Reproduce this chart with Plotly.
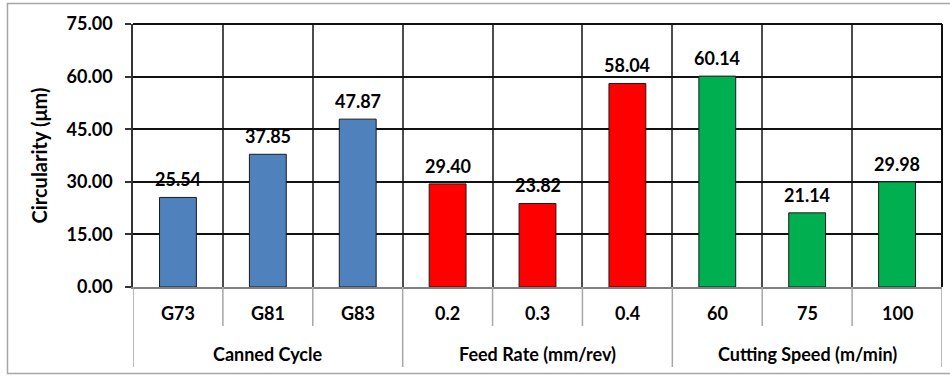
import plotly.graph_objects as go

# Factor levels, grouped by machining parameter
groups = ["Canned Cycle", "Feed Rate (mm/rev)", "Cutting Speed (m/min)"]
levels = [["G73", "G81", "G83"], ["0.2", "0.3", "0.4"], ["60", "75", "100"]]
circularity = [[25.54, 37.85, 47.87], [29.40, 23.82, 58.04], [60.14, 21.14, 29.98]]
group_colors = ["#4F81BD", "#FF0000", "#00B050"]
y_ticks = [0, 15, 30, 45, 60, 75]

FONT = "Lato"
FS = 18
W, H = 950, 376
ML, MR, MT, MB = 133, 8, 24, 89
PW, PH = W - ML - MR, H - MT - MB

categories = [c for lv in levels for c in lv]
values = [v for vals in circularity for v in vals]
colors = [group_colors[g] for g, lv in enumerate(levels) for _ in lv]
positions = list(range(len(categories)))


def px_to_paper_y(py):
    return (H - MB - py) / PH


def px_to_paper_x(px):
    return (px - ML) / PW


fig = go.Figure()
fig.add_trace(go.Bar(
    x=categories, y=values, width=0.41,
    marker=dict(color=colors, line=dict(color="#1a1a1a", width=1)),
    hoverinfo="x+y", showlegend=False,
))

label_font = dict(family=FONT, size=FS, color="#000")
annotations = []
# value labels above each bar (category index used as x position)
for i, v in zip(positions, values):
    annotations.append(dict(
        x=i, y=v, xref="x", yref="y", text=f"<b>{v:.2f}</b>", showarrow=False,
        yanchor="bottom", yshift=5, font=label_font,
    ))
# first-level category labels
for i, c in zip(positions, categories):
    annotations.append(dict(
        x=i, y=px_to_paper_y(313), xref="x", yref="paper", text=f"<b>{c}</b>",
        showarrow=False, yanchor="middle", font=label_font,
    ))
# group labels
start = 0
for g, lv in zip(groups, levels):
    mid = start + (len(lv) - 1) / 2
    annotations.append(dict(
        x=mid, y=px_to_paper_y(354), xref="x", yref="paper", text=f"<b>{g}</b>",
        showarrow=False, yanchor="middle", font=label_font,
    ))
    start += len(lv)
# y-axis title
annotations.append(dict(
    x=px_to_paper_x(38), y=0.5, xref="paper", yref="paper",
    text="<b>Circularity (μm)</b>", textangle=-90, showarrow=False,
    xanchor="center", yanchor="middle", font=dict(family=FONT, size=20, color="#000"),
))

shapes = []
# dividers under the axis: short between levels, long between groups
group_edges = set()
start = 0
for lv in levels:
    group_edges.add(start - 0.5)
    start += len(lv)
    group_edges.add(start - 0.5)
for k in range(len(categories) + 1):
    b = k - 0.5
    long_line = b in group_edges
    shapes.append(dict(
        type="line", xref="x", yref="paper", x0=b, x1=b,
        y0=0, y1=px_to_paper_y(367 if long_line else 326),
        line=dict(color="#A6A6A6", width=1.5),
    ))
# outer chart border
shapes.append(dict(
    type="rect", xref="paper", yref="paper",
    x0=px_to_paper_x(7.5), x1=px_to_paper_x(955),
    y0=px_to_paper_y(373.5), y1=px_to_paper_y(3.5),
    line=dict(color="#A6A6A6", width=1.5), fillcolor="rgba(0,0,0,0)", layer="below",
))
# black frame on top and right of the plotting area
shapes.append(dict(type="line", xref="paper", yref="paper", x0=0, x1=1, y0=1, y1=1,
                   line=dict(color="#111111", width=2)))
shapes.append(dict(type="line", xref="paper", yref="paper", x0=1, x1=1, y0=0, y1=1,
                   line=dict(color="#111111", width=2)))

fig.update_layout(
    width=W, height=H,
    margin=dict(l=ML, r=MR, t=MT, b=MB, pad=0),
    paper_bgcolor="white", plot_bgcolor="white",
    annotations=annotations, shapes=shapes,
    xaxis=dict(
        type="category", range=[-0.5, len(categories) - 0.5],
        tickson="boundaries", showgrid=True, gridcolor="#4d4d4d", gridwidth=1.5,
        showticklabels=False, ticks="",
        showline=True, linecolor="#808080", linewidth=1.5, mirror=False,
        zeroline=False, fixedrange=True,
    ),
    yaxis=dict(
        range=[0, 75], tickvals=y_ticks, tickformat=".2f",
        showgrid=True, gridcolor="#111111", gridwidth=1.5,
        ticks="outside", ticklen=6, tickcolor="#333333", tickwidth=1.5,
        ticklabelstandoff=9,
        tickfont=dict(family=FONT, size=FS, color="#000", weight="bold"),
        showline=True, linecolor="#333333", linewidth=1.5, mirror=False,
        zeroline=False, fixedrange=True,
    ),
)

fig.write_html("out.html")
